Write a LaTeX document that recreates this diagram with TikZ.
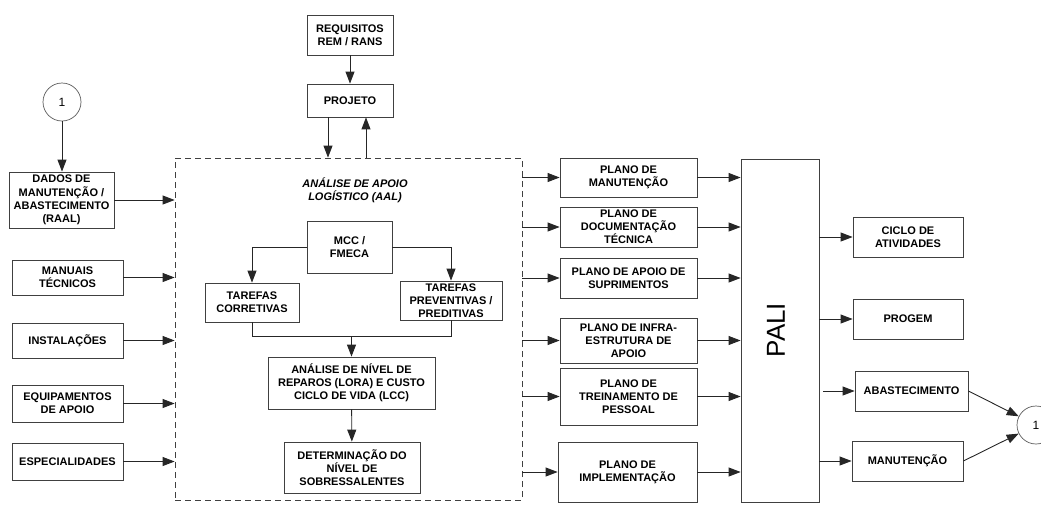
\documentclass[tikz,border=0pt]{standalone}
\usepackage{fontspec}
\setmainfont{Liberation Sans}
\usepackage{tikz}
\usetikzlibrary{arrows.meta}

\begin{document}
\begin{tikzpicture}[x=1pt,y=-1pt,
  box/.style={draw=black!75,line width=0.8pt,align=center,inner sep=1pt,
    font=\fontsize{11}{13.2}\selectfont\bfseries},
  ln/.style={draw=black!85,line width=0.9pt},
  arr/.style={ln,-{Triangle[length=12pt,width=9pt]}},
  circ/.style={draw=black!65,line width=0.7pt,circle,minimum size=38pt,inner sep=0pt,
    font=\fontsize{12}{14}\selectfont}]
\useasboundingbox (0,0) rectangle (1041,504);

\node[circ] (c1l) at (62,102) {1};
\node[box,minimum width=105pt,minimum height=56pt] (dados) at (61.5,200) {DADOS DE\\MANUTENÇÃO /\\ABASTECIMENTO\\(RAAL)};
\node[box,minimum width=111pt,minimum height=35pt] (manuais) at (67.5,277.5) {MANUAIS\\TÉCNICOS};
\node[box,minimum width=111pt,minimum height=35pt] (instal) at (67.5,340.5) {INSTALAÇÕES};
\node[box,minimum width=111pt,minimum height=37pt] (equip) at (67.5,403.5) {EQUIPAMENTOS\\DE APOIO};
\node[box,minimum width=111pt,minimum height=37pt] (espec) at (67.5,461.5) {ESPECIALIDADES};

\node[box,minimum width=86pt,minimum height=40pt] (req) at (350,35) {REQUISITOS\\REM / RANS};
\node[box,minimum width=86pt,minimum height=33pt] (proj) at (350,100.5) {PROJETO};

\node[draw=black!75,line width=0.8pt,dash pattern=on 6pt off 4pt,inner sep=0pt,
  minimum width=347pt,minimum height=342pt] (aal) at (348.5,329) {};
\node[align=center,font=\fontsize{11}{13.2}\selectfont\bfseries\itshape] (aaltit) at (355,190) {ANÁLISE DE APOIO\\LOGÍSTICO (AAL)};
\node[box,minimum width=85pt,minimum height=52pt] (mcc) at (349.5,247) {MCC /\\FMECA};
\node[box,minimum width=94pt,minimum height=39pt] (corr) at (252,302.5) {TAREFAS\\CORRETIVAS};
\node[box,minimum width=102pt,minimum height=39pt] (prev) at (451,300.5) {TAREFAS\\PREVENTIVAS /\\PREDITIVAS};
\node[box,minimum width=167pt,minimum height=52pt] (lora) at (351.5,383) {ANÁLISE DE NÍVEL DE\\REPAROS (LORA) E CUSTO\\CICLO DE VIDA (LCC)};
\node[box,minimum width=136pt,minimum height=51pt] (det) at (352,467.5) {DETERMINAÇÃO DO\\NÍVEL DE\\SOBRESSALENTES};

\node[box,minimum width=137pt,minimum height=39pt] (pman) at (628.5,177.5) {PLANO DE\\MANUTENÇÃO};
\node[box,minimum width=137pt,minimum height=40pt] (pdoc) at (628.5,227) {PLANO DE\\DOCUMENTAÇÃO\\TÉCNICA};
\node[box,minimum width=137pt,minimum height=40pt] (psup) at (628.5,278) {PLANO DE APOIO DE\\SUPRIMENTOS};
\node[box,minimum width=137pt,minimum height=45pt] (pinf) at (628.5,340.5) {PLANO DE INFRA-\\ESTRUTURA DE\\APOIO};
\node[box,minimum width=137pt,minimum height=57pt] (ptre) at (628.5,396.5) {PLANO DE\\TREINAMENTO DE\\PESSOAL};
\node[box,minimum width=139pt,minimum height=60pt] (pimp) at (627.5,472) {PLANO DE\\IMPLEMENTAÇÃO};

\node[box,minimum width=78pt,minimum height=343pt] (pali) at (780,330.5) {};
\node[rotate=90,font=\fontsize{26}{26}\selectfont] (palitxt) at (776,330) {PALI};

\node[box,minimum width=110pt,minimum height=40pt] (ciclo) at (908,237) {CICLO DE\\ATIVIDADES};
\node[box,minimum width=110pt,minimum height=40pt] (progem) at (908,319) {PROGEM};
\node[box,minimum width=113pt,minimum height=40pt] (abast) at (911.5,391) {ABASTECIMENTO};
\node[box,minimum width=111pt,minimum height=40pt] (manut) at (907.5,461) {MANUTENÇÃO};
\node[circ] (c1r) at (1036,425) {1};

\draw[arr] (c1l.south) -- (c1l.south |- dados.north);
\foreach \n in {dados,manuais,instal,equip,espec}
  \draw[arr] (\n.east) -- (\n.east -| aal.west);
\draw[arr] (req) -- (proj);
\draw[arr] ([xshift=-22pt]proj.south) -- ([xshift=-22pt]proj.south |- aal.north);
\draw[arr] ([xshift=16pt]proj.south |- aal.north) -- ([xshift=16pt]proj.south);

\draw[arr] (mcc.west) -| (corr.north);
\draw[arr] (mcc.east) -| (prev.north);
\path (lora.north) ++(0,-20) coordinate (jn);
\draw[ln] (corr.south) |- (jn) -| (prev.south);
\draw[arr] (jn) -- (lora.north);
\draw[arr] (lora) -- (det);

\foreach \n in {pman,pdoc,psup,pinf,ptre,pimp} {
  \draw[arr] (\n.west -| aal.east) -- (\n.west);
  \draw[arr] (\n.east) -- (\n.east -| pali.west);
}
\foreach \n in {ciclo,progem,manut}
  \draw[arr] (\n.west -| pali.east) -- (\n.west);
\draw[arr] ([xshift=4pt]pali.east |- abast.west) -- (abast.west);
\draw[arr] (abast.east) -- (c1r);
\draw[arr] (manut.east) -- (c1r);
\end{tikzpicture}
\end{document}
